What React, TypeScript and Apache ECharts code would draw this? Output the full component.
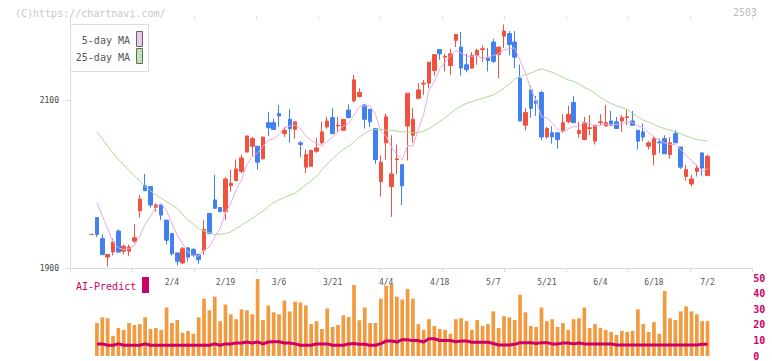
import React, { useEffect, useRef } from 'react';
import * as echarts from 'echarts';

const DATES = [
  '1/14','1/15','1/16','1/17','1/20','1/21','1/22','1/23','1/24','1/27','1/28','1/29','1/30','1/31','2/3',
  '2/4','2/5','2/6','2/7','2/10','2/12','2/13','2/14','2/17','2/18','2/19','2/20','2/21','2/25','2/26',
  '2/27','2/28','3/3','3/4','3/5','3/6','3/7','3/10','3/11','3/12','3/13','3/14','3/17','3/18','3/19',
  '3/21','3/24','3/25','3/26','3/27','3/28','3/31','4/1','4/2','4/3','4/4','4/7','4/8','4/9','4/10',
  '4/11','4/14','4/15','4/16','4/17','4/18','4/21','4/22','4/23','4/24','4/25','4/28','4/30','5/1','5/2',
  '5/7','5/8','5/9','5/12','5/13','5/14','5/15','5/16','5/19','5/20','5/21','5/22','5/23','5/26','5/27',
  '5/28','5/29','5/30','6/2','6/3','6/4','6/5','6/6','6/9','6/10','6/11','6/12','6/13','6/16','6/17',
  '6/18','6/19','6/20','6/23','6/24','6/25','6/26','6/27','6/30','7/1','7/2'
];
const DATE_LABELS = ['2/4','2/19','3/6','3/21','4/4','4/18','5/7','5/21','6/4','6/18','7/2'];

const OPEN = [
  1940,1960,1935,1913,1919,1944,1920,1920,1932,1968,1998,1997,1972,1975,1957,1941,1918,1906,1924,1922,
  1916,1921,1965,1981,1972,1967,1998,2004,2015,2038,2045,2045,2030,2073,2073,2084,2060,2077,2065,2049,
  2020,2021,2039,2049,2068,2079,2069,2064,2088,2099,2104,2094,2089,2066,2003,2049,1997,2029,2023,2069,
  2058,2102,2119,2120,2135,2160,2151,2141,2171,2163,2142,2138,2153,2160,2150,2169,2154,2176,2179,2169,
  2126,2070,2112,2099,2109,2056,2061,2061,2064,2074,2097,2060,2053,2066,2051,2073,2069,2075,2074,2075,
  2079,2075,2064,2062,2045,2035,2050,2054,2035,2060,2044,2009,2000,2015,2037,2010
];
const CLOSE = [
  1940,1940,1916,1916,1931,1919,1926,1925,1936,1982,1992,1975,1975,1963,1933,1917,1908,1923,1913,1915,
  1910,1946,1941,1971,1967,2006,2001,2018,2031,2057,2054,2026,2056,2067,2065,2081,2064,2066,2074,2047,
  2035,2040,2043,2062,2075,2060,2070,2077,2079,2124,2109,2077,2074,2029,2026,2080,2012,2030,1998,2108,
  2077,2112,2120,2145,2154,2155,2152,2155,2178,2138,2136,2153,2159,2161,2147,2146,2163,2182,2166,2151,
  2075,2085,2090,2096,2056,2066,2056,2053,2073,2083,2073,2064,2073,2067,2070,2074,2073,2070,2066,2079,
  2080,2070,2051,2056,2049,2054,2049,2036,2049,2049,2020,2017,2006,2019,2019,2033
];
const LOW = [
  1940,1937,1915,1902,1915,1918,1916,1914,1930,1960,1992,1972,1967,1957,1928,1915,1903,1905,1908,1913,
  1905,1916,1940,1971,1967,1957,1991,2004,2013,2038,2033,2017,2029,2057,2065,2068,2056,2049,2054,2032,
  2013,2021,2037,2047,2066,2060,2062,2064,2078,2097,2103,2066,2068,2024,1985,2029,1961,2012,1975,2028,
  2049,2101,2106,2114,2129,2148,2134,2130,2163,2129,2133,2137,2142,2145,2134,2144,2126,2162,2153,2138,
  2075,2064,2079,2081,2052,2054,2048,2042,2062,2072,2073,2055,2052,2058,2047,2070,2069,2070,2066,2062,
  2070,2070,2041,2051,2041,2022,2037,2036,2030,2049,2018,2004,1997,2009,2010,2010
];
const HIGH = [
  1940,1960,1940,1916,1935,1946,1928,1928,1952,1987,2012,1997,1977,1975,1957,1941,1918,1925,1925,1924,
  1917,1957,1965,2011,1972,2008,2017,2029,2035,2058,2056,2045,2056,2086,2078,2094,2068,2089,2074,2051,
  2041,2041,2055,2074,2080,2090,2080,2077,2095,2130,2114,2095,2089,2066,2034,2084,2058,2047,2023,2108,
  2090,2120,2124,2145,2154,2160,2155,2161,2178,2181,2155,2157,2161,2165,2162,2173,2163,2190,2182,2182,
  2142,2090,2117,2105,2111,2068,2069,2061,2083,2093,2105,2074,2080,2082,2070,2083,2094,2087,2080,2082,
  2089,2087,2064,2072,2051,2056,2054,2058,2056,2064,2044,2023,2011,2023,2038,2035
];

const MA5 = [
  null,1978,1962,1947,1931,1924,1922,1923,1927,1938,1952,1962,1972,1977,1968,1953,1939,1929,1919,1915,
  1914,1921,1925,1937,1947,1966,1977,1993,2005,2023,2032,2037,2045,2052,2054,2059,2067,2069,2070,2066,
  2057,2052,2048,2045,2051,2056,2062,2069,2072,2082,2092,2093,2093,2083,2063,2057,2044,2035,2029,2046,
  2045,2065,2083,2112,2122,2137,2145,2152,2159,2156,2152,2152,2153,2149,2151,2153,2155,2160,2161,2162,
  2147,2132,2113,2099,2080,2079,2073,2065,2061,2066,2068,2069,2073,2072,2069,2070,2071,2071,2071,2072,
  2074,2073,2069,2067,2061,2056,2052,2049,2047,2047,2041,2034,2028,2022,2016,2018
];
const MA25 = [
  null,2062,2054,2045,2037,2029,2023,2016,2010,2004,1997,1992,1987,1983,1979,1975,1971,1964,1957,1952,
  1947,1944,1942,1940,1940,1941,1943,1947,1951,1955,1959,1964,1968,1973,1978,1981,1984,1987,1989,1994,
  1999,2004,2009,2017,2024,2030,2036,2041,2045,2050,2056,2060,2064,2065,2065,2064,2064,2063,2062,2062,
  2061,2061,2063,2066,2070,2074,2079,2084,2089,2093,2096,2098,2100,2102,2104,2106,2110,2114,2119,2125,
  2128,2130,2132,2135,2137,2135,2133,2130,2127,2124,2122,2119,2115,2112,2108,2103,2099,2096,2093,2091,
  2089,2084,2080,2076,2074,2071,2068,2066,2064,2062,2060,2057,2055,2053,2052,2051
];

const VOLUME = [
  null,21.2,24.9,24.3,13,18,16.8,21.2,19.9,20.5,24.9,17.4,18,16.8,31.2,21.2,23.1,14.9,16.1,14.3,
  24.9,36.9,29.4,38.2,22.4,33.1,26.8,23.7,30,29.4,26.8,49.5,23.1,32.5,28.1,26.8,35.6,28.7,35,34.4,
  32.5,20.5,22.4,17.4,30.6,18.7,19.9,26.2,25,45.7,23,31.2,21.2,21.2,36.9,45.1,46.3,38.2,36.3,43.2,
  36.9,20.5,16.8,23.7,19.3,17.4,16.8,14.3,23.7,24.3,22.4,16.8,23.1,19.3,20.5,28.7,18,25.6,24.9,23.1,
  39.4,28.1,19.3,18.7,31.2,22.4,23.7,18.7,21.2,16.8,23.7,24.3,31.2,18,20.5,18,16.8,15.5,13.6,16.1,
  15.5,16.1,30,20.5,15.5,21.8,14.3,41.9,24.3,23.1,28.7,31.9,28.7,26.8,22.4,22.4
];
const AI_PREDICT = [
  null,7.8,7.8,6.9,6.9,7.8,6.9,6.9,6.9,6.9,7.8,6.9,6.9,6.9,6.9,6.9,6.9,6.9,6.9,6.9,
  6.9,6.9,6.9,7.8,6.9,7.8,7.8,8.4,8.4,9,8.4,9,7.8,9,9.2,9.2,8.4,8.4,7.8,6.9,
  6.9,6.9,7.8,7.8,7.8,6.9,6.9,6.9,7.8,8,7.5,7.5,6.9,6.9,8,9.6,9.6,9,10.5,10.5,
  9.9,9.9,9,11.1,11.1,10,10,10,9.2,9.6,9.6,8.8,8.8,8.8,8.8,8,7.1,7.1,7.1,7.5,
  8.6,8.6,8.6,8,8.6,8.6,7.8,7.8,8.4,8.4,7.8,8.4,7.8,7.8,7.8,7.8,7.8,7.8,7.1,7.1,
  7.1,7.1,7.1,7.1,7.1,7.1,7.1,7.1,7.1,7.1,7.1,7.1,7.1,7.1,7.5,7.5
];

const PRICE_TICKS = [1900, 2100];
const MONO = '"DejaVu Sans Mono", monospace';
const RED = '#ef5340';
const BLUE = '#4080ef';
const MAGENTA = '#cc0066';
const AXIS_GRAY = '#dcdcdc';

export default function App() {
  const ref = useRef<HTMLDivElement>(null);
  useEffect(() => {
    if (!ref.current) return;
    const chart = echarts.init(ref.current, null, { renderer: 'svg' });
    const candles = OPEN.map((o, i) => [o, CLOSE[i], LOW[i], HIGH[i]]);
    const dataLeft = 88.9;
    const dataRight = 61.8;
    chart.setOption({
      animation: false,
      backgroundColor: '#ffffff',
      grid: [
        { left: 70, right: 20, top: 16, bottom: 93 },
        { left: dataLeft, right: dataRight, top: 16, bottom: 93 },
        { left: dataLeft, right: dataRight, top: 278.3, bottom: 2.5 },
      ],
      xAxis: [
        {
          gridIndex: 0, type: 'value', min: 0, max: 11, interval: 1,
          axisLine: { show: true, lineStyle: { color: AXIS_GRAY, width: 1 } },
          axisTick: { show: true, length: 4, lineStyle: { color: AXIS_GRAY } },
          axisLabel: { show: false }, splitLine: { show: false },
        },
        {
          gridIndex: 0, type: 'value', min: 0, max: 11, interval: 1,
          axisLine: { show: false },
          axisTick: { show: true, inside: true, length: 3, lineStyle: { color: AXIS_GRAY } },
          axisLabel: { show: false }, splitLine: { show: false },
        },
        {
          gridIndex: 1, type: 'category', data: DATES, boundaryGap: true,
          axisLine: { show: false }, axisTick: { show: false }, splitLine: { show: false },
          axisLabel: {
            interval: (_i: number, v: string) => DATE_LABELS.includes(v),
            margin: 10, fontSize: 8, color: '#555', fontFamily: MONO,
          },
        },
        {
          gridIndex: 2, type: 'category', data: DATES, boundaryGap: true, show: false,
        },
      ],
      yAxis: [
        {
          gridIndex: 0, type: 'value', min: 1900, max: 2200,
          axisLine: { show: true, lineStyle: { color: AXIS_GRAY } },
          axisTick: { show: true, length: 5, customValues: PRICE_TICKS, lineStyle: { color: AXIS_GRAY } },
          axisLabel: {
            customValues: PRICE_TICKS, margin: 11, fontSize: 8, color: '#444', fontFamily: MONO,
            formatter: (v: number) => String(v),
          },
          splitLine: { show: false },
        },
        {
          gridIndex: 0, type: 'value', min: 1900, max: 2200,
          axisLine: { show: false },
          axisTick: { show: true, inside: true, length: 4, customValues: PRICE_TICKS, lineStyle: { color: AXIS_GRAY } },
          axisLabel: { show: false }, splitLine: { show: false },
        },
        { gridIndex: 1, type: 'value', min: 1900, max: 2200, show: false },
        {
          gridIndex: 2, type: 'value', min: 0, max: 50, interval: 10, position: 'right',
          axisLine: { show: false }, axisTick: { show: false }, splitLine: { show: false },
          axisLabel: { margin: 43, fontSize: 10, fontWeight: 'bold', color: MAGENTA, fontFamily: MONO },
        },
      ],
      series: [
        {
          type: 'candlestick', xAxisIndex: 2, yAxisIndex: 2, data: candles, barWidth: 4,
          itemStyle: { color: RED, color0: BLUE, borderColor: RED, borderColor0: BLUE, borderWidth: 1 },
        },
        {
          type: 'line', xAxisIndex: 2, yAxisIndex: 2, data: MA5, showSymbol: false, symbol: 'none',
          lineStyle: { color: '#e6abe6', width: 1 }, z: 3,
        },
        {
          type: 'line', xAxisIndex: 2, yAxisIndex: 2, data: MA25, showSymbol: false, symbol: 'none',
          lineStyle: { color: '#acd89c', width: 1 }, z: 3,
        },
        {
          type: 'bar', xAxisIndex: 3, yAxisIndex: 3, data: VOLUME, barWidth: 3.7,
          itemStyle: { color: '#f29a40' },
        },
        {
          type: 'line', xAxisIndex: 3, yAxisIndex: 3, data: AI_PREDICT, symbol: 'none',
          lineStyle: { color: MAGENTA, width: 3 }, z: 4,
        },
      ],
      graphic: [
        {
          type: 'text', x: 15, y: 13,
          style: { text: '(C)https://chartnavi.com/', fill: '#c8c8c8', font: `10px ${MONO}`, verticalAlign: 'middle' },
        },
        {
          type: 'text', x: 757, y: 12,
          style: { text: '2503', fill: '#bbbbbb', font: `10px ${MONO}`, align: 'right', verticalAlign: 'middle' },
        },
        {
          type: 'rect', shape: { x: 70.5, y: 24.5, width: 78, height: 47 },
          style: { fill: '#ffffff', stroke: '#dddddd', lineWidth: 1 }, z: 10,
        },
        {
          type: 'text', x: 130, y: 40, z: 11,
          style: { text: '5-day MA', fill: '#555555', font: `10px ${MONO}`, align: 'right', verticalAlign: 'middle' },
        },
        {
          type: 'text', x: 130, y: 57, z: 11,
          style: { text: '25-day MA', fill: '#555555', font: `10px ${MONO}`, align: 'right', verticalAlign: 'middle' },
        },
        {
          type: 'rect', shape: { x: 136.5, y: 31.5, width: 6, height: 15 }, z: 11,
          style: { fill: '#eec4ee', stroke: '#666666', lineWidth: 1 },
        },
        {
          type: 'rect', shape: { x: 136.5, y: 48.5, width: 6, height: 15 }, z: 11,
          style: { fill: '#bfe2b2', stroke: '#666666', lineWidth: 1 },
        },
        {
          type: 'text', x: 76, y: 286,
          style: { text: 'AI-Predict', fill: MAGENTA, font: `10px ${MONO}`, verticalAlign: 'middle' },
        },
        {
          type: 'rect', shape: { x: 142, y: 277, width: 7, height: 16 },
          style: { fill: MAGENTA },
        },
      ],
    });
    return () => chart.dispose();
  }, []);
  return (
    <div
      ref={ref}
      style={{ position: 'fixed', left: 0, top: 0, width: 772, height: 361, background: '#fff' }}
    />
  );
}
